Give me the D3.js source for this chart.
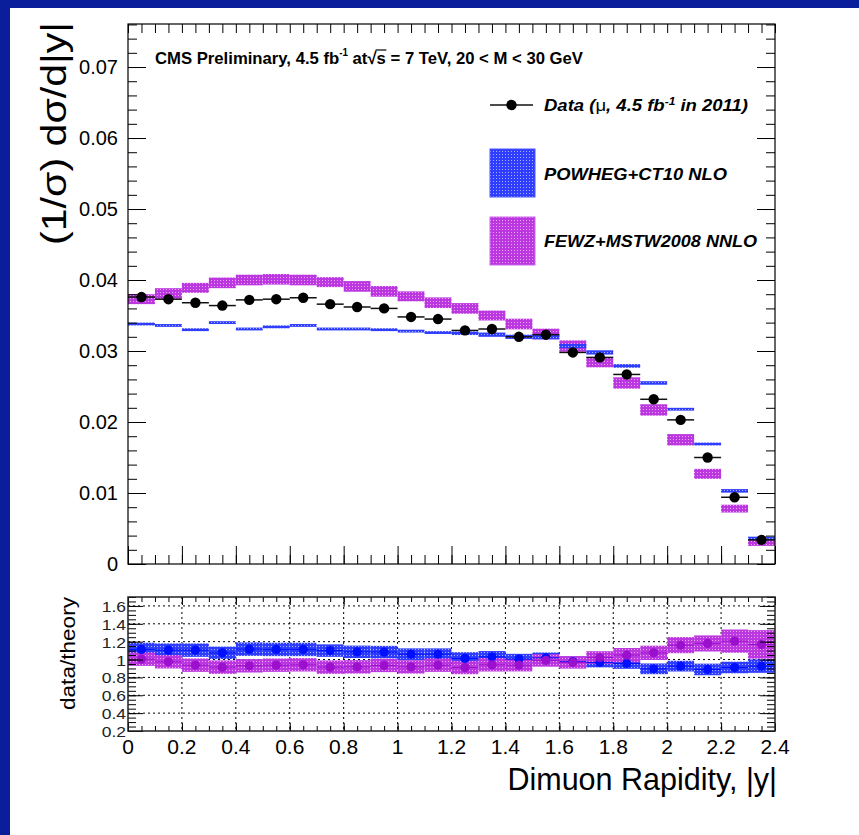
<!DOCTYPE html>
<html>
<head>
<meta charset="utf-8">
<script src="https://cdn.jsdelivr.net/npm/d3@7"></script>
<style>
  body { margin: 0; background: #fff; }
  text { font-family: "Liberation Sans", Arial, sans-serif; }
</style>
</head>
<body>
<script>
// bins in |y|
var binLo = [0.0, 0.1, 0.2, 0.3, 0.4, 0.5, 0.6, 0.7, 0.8, 0.9, 1.0, 1.1, 1.2, 1.3, 1.4, 1.5, 1.6, 1.7, 1.8, 1.9, 2.0, 2.1, 2.2, 2.3];
var binHi = [0.1, 0.2, 0.3, 0.4, 0.5, 0.6, 0.7, 0.8, 0.9, 1.0, 1.1, 1.2, 1.3, 1.4, 1.5, 1.6, 1.7, 1.8, 1.9, 2.0, 2.1, 2.2, 2.3, 2.4];

// (1/sigma) dsigma/d|y|
var dataVal = [0.0376, 0.0373, 0.0368, 0.0364, 0.0372, 0.0373, 0.0375, 0.0366, 0.0362, 0.0360, 0.0348, 0.0345,
               0.0329, 0.0331, 0.0320, 0.0323, 0.0298, 0.0291, 0.0267, 0.0232, 0.0203, 0.0150, 0.0094, 0.0034];
var powhegVal = [0.0338, 0.0336, 0.0330, 0.0340, 0.0331, 0.0334, 0.0336, 0.0331, 0.0331, 0.0330, 0.0328, 0.0326,
                 0.0325, 0.0323, 0.0320, 0.0320, 0.0307, 0.0298, 0.0279, 0.0255, 0.0218, 0.0169, 0.0103, 0.0036];
var powhegErr = [0.0002, 0.0002, 0.0002, 0.0002, 0.0002, 0.0002, 0.0002, 0.0002, 0.0002, 0.0002, 0.0002, 0.0002,
                 0.00025, 0.0003, 0.0003, 0.00035, 0.0003, 0.0003, 0.00025, 0.00025, 0.0002, 0.0002, 0.00025, 0.00025];
var fewzVal = [0.0373, 0.0381, 0.0389, 0.0396, 0.0400, 0.0401, 0.0400, 0.0397, 0.0391, 0.0384, 0.0377, 0.0368,
               0.0360, 0.0350, 0.0338, 0.0324, 0.0307, 0.0284, 0.0255, 0.0217, 0.0175, 0.0127, 0.0078, 0.0030];
var fewzErr = [0.0007, 0.00075, 0.0007, 0.00075, 0.00075, 0.00075, 0.00075, 0.0007, 0.00075, 0.00075, 0.0007, 0.00075,
               0.00075, 0.0007, 0.00075, 0.00075, 0.0008, 0.0007, 0.0008, 0.0008, 0.0008, 0.0007, 0.00055, 0.00045];

// data / theory
var ratioPowheg = [1.113, 1.105, 1.105, 1.075, 1.116, 1.113, 1.113, 1.100, 1.086, 1.083, 1.060, 1.060,
                   1.012, 1.030, 1.004, 1.019, 0.975, 0.967, 0.956, 0.896, 0.926, 0.889, 0.911, 0.926];
var ratioPowhegErr = [0.075, 0.075, 0.075, 0.07, 0.075, 0.075, 0.075, 0.07, 0.07, 0.07, 0.065, 0.065,
                      0.07, 0.065, 0.06, 0.06, 0.06, 0.055, 0.06, 0.06, 0.06, 0.065, 0.065, 0.075];
var ratioFewz = [1.004, 0.975, 0.937, 0.915, 0.930, 0.937, 0.941, 0.915, 0.918, 0.934, 0.918, 0.937,
                 0.911, 0.941, 0.937, 0.990, 0.968, 1.023, 1.049, 1.075, 1.161, 1.180, 1.206, 1.169];
var ratioFewzErr = [0.075, 0.075, 0.075, 0.075, 0.075, 0.075, 0.075, 0.075, 0.075, 0.075, 0.075, 0.075,
                    0.075, 0.075, 0.07, 0.07, 0.07, 0.07, 0.08, 0.08, 0.09, 0.09, 0.13, 0.16];

var mainTicksMajor = [0, 0.01, 0.02, 0.03, 0.04, 0.05, 0.06, 0.07];
var ratioTicksMajor = [0.2, 0.4, 0.6, 0.8, 1.0, 1.2, 1.4, 1.6];
var xTicksMajor = [0, 0.2, 0.4, 0.6, 0.8, 1.0, 1.2, 1.4, 1.6, 1.8, 2.0, 2.2, 2.4];

var W = 859, H = 835;
var left = 128, right = 775;

var x = d3.scaleLinear().domain([0, 2.4]).range([left, right]);
var y = d3.scaleLinear().domain([0, 0.07606]).range([564, 24]);
var yr = d3.scaleLinear().domain([0.2, 1.7]).range([731, 597]);

var svg = d3.select("body").append("svg")
    .attr("width", W)
    .attr("height", H);

// fill patterns (ROOT-like dotted hatch)
var defs = svg.append("defs");
function dotPattern(id, base, dot) {
  var p = defs.append("pattern").attr("id", id)
    .attr("width", 3).attr("height", 3)
    .attr("patternUnits", "userSpaceOnUse");
  p.append("rect").attr("width", 3).attr("height", 3).attr("fill", base);
  p.append("rect").attr("x", 1).attr("y", 1).attr("width", 1).attr("height", 1).attr("fill", dot);
}
dotPattern("pBlue", "#2f3dff", "#aab3ff");
dotPattern("pMag", "#bb38e0", "#e8a8f4");

svg.append("rect").attr("width", W).attr("height", H).attr("fill", "#fff");
svg.append("rect").attr("width", W).attr("height", 8).attr("fill", "#0a1e9c");
svg.append("rect").attr("width", 10).attr("height", H).attr("fill", "#0a1e9c");

var bins = binLo.map(function(lo, i) { return i; });

// ---------- main pad ----------
var main = svg.append("g");

function bandRects(g, scale, vals, errs, fill) {
  g.selectAll(null)
    .data(bins)
    .enter().append("rect")
    .attr("x", function(i) { return x(binLo[i]); })
    .attr("width", function(i) { return x(binHi[i]) - x(binLo[i]); })
    .attr("y", function(i) { return scale(vals[i] + errs[i]); })
    .attr("height", function(i) { return scale(vals[i] - errs[i]) - scale(vals[i] + errs[i]); })
    .attr("fill", fill);
}

bandRects(main, y, fewzVal, fewzErr, "url(#pMag)");
bandRects(main, y, powhegVal, powhegErr, "url(#pBlue)");

// data horizontal error bars + markers
main.selectAll(".xerr")
  .data(bins)
  .enter().append("line")
  .attr("x1", function(i) { return x(binLo[i]); })
  .attr("x2", function(i) { return x(binHi[i]); })
  .attr("y1", function(i) { return y(dataVal[i]); })
  .attr("y2", function(i) { return y(dataVal[i]); })
  .attr("stroke", "#111").attr("stroke-width", 1.5);

main.selectAll(".pt")
  .data(bins)
  .enter().append("circle")
  .attr("cx", function(i) { return (x(binLo[i]) + x(binHi[i])) / 2; })
  .attr("cy", function(i) { return y(dataVal[i]); })
  .attr("r", 5.2)
  .attr("fill", "#000");

// axes of main pad
function tickAxis(g, axisFn, scale, values, size) {
  g.call(axisFn(scale).tickValues(values).tickSize(size).tickFormat(""))
   .call(function(s) { s.select(".domain").remove(); })
   .selectAll("line").attr("stroke", "#000").attr("stroke-width", 1);
}
var xMinor = x.ticks(48);
var yMinor = d3.range(0, 0.0761, 0.002);

tickAxis(main.append("g").attr("transform", "translate(0,564)"), d3.axisBottom, x, xMinor, -9);
tickAxis(main.append("g").attr("transform", "translate(0,564)"), d3.axisBottom, x, xTicksMajor, -18);
tickAxis(main.append("g").attr("transform", "translate(0,24)"), d3.axisTop, x, xMinor, -9);
tickAxis(main.append("g").attr("transform", "translate(" + left + ",0)"), d3.axisLeft, y, yMinor, -9);
tickAxis(main.append("g").attr("transform", "translate(" + left + ",0)"), d3.axisLeft, y, mainTicksMajor, -18);
tickAxis(main.append("g").attr("transform", "translate(" + right + ",0)"), d3.axisRight, y, yMinor, -9);
tickAxis(main.append("g").attr("transform", "translate(" + right + ",0)"), d3.axisRight, y, mainTicksMajor, -18);

main.append("rect")
  .attr("x", left).attr("y", 24)
  .attr("width", right - left).attr("height", 540)
  .attr("fill", "none").attr("stroke", "#000").attr("stroke-width", 1.2);

main.selectAll(".ylab")
  .data(mainTicksMajor)
  .enter().append("text")
  .attr("x", 118)
  .attr("y", function(d) { return y(d); })
  .attr("dy", "0.36em")
  .attr("text-anchor", "end")
  .style("font-size", "20px")
  .text(function(d) { return d === 0 ? "0" : d3.format(".2f")(d); });

// y title
main.append("text")
  .attr("transform", "translate(66,245) rotate(-90)")
  .attr("textLength", 223)
  .attr("lengthAdjust", "spacingAndGlyphs")
  .style("font-size", "35px")
  .text("(1/\u03c3) d\u03c3/d|y|");

// header
var title = main.append("text")
  .attr("x", 155).attr("y", 63.5)
  .style("font-size", "17px")
  .style("font-weight", "bold");
title.append("tspan").text("CMS Preliminary, 4.5 fb");
title.append("tspan").attr("dy", -8).style("font-size", "10px").text("-1");
title.append("tspan").attr("dy", 8).text(" at");
title.append("tspan").text("\u221a");
title.append("tspan").text("s");
title.append("tspan").text(" = 7 TeV, 20 < M < 30 GeV");
title.attr("textLength", 428).attr("lengthAdjust", "spacingAndGlyphs");

// overline of the square root
(function() {
  var node = title.node();
  var str = "CMS Preliminary, 4.5 fb-1 at";
  var iRoot = str.length, iS = iRoot + 1;
  try {
    var eR = node.getExtentOfChar(iRoot);
    var eS = node.getExtentOfChar(iS);
    main.append("line")
      .attr("x1", eR.x + eR.width - 1).attr("x2", eS.x + eS.width + 0.5)
      .attr("y1", eR.y + 1.5).attr("y2", eR.y + 1.5)
      .attr("stroke", "#000").attr("stroke-width", 1.2);
  } catch (e) {}
})();

// legend
var leg = main.append("g");
leg.append("line").attr("x1", 490).attr("x2", 533).attr("y1", 105).attr("y2", 105)
  .attr("stroke", "#111").attr("stroke-width", 1.5);
leg.append("circle").attr("cx", 511.5).attr("cy", 105).attr("r", 5.2).attr("fill", "#000");
var legData = leg.append("text").attr("x", 544).attr("y", 111)
  .style("font-size", "17px").style("font-weight", "bold").style("font-style", "italic");
legData.append("tspan").text("Data (");
legData.append("tspan").style("font-weight", "normal").style("font-style", "normal").text("\u03bc");
legData.append("tspan").text(", 4.5 fb");
legData.append("tspan").attr("dy", -6).style("font-size", "11px").text("-1");
legData.append("tspan").attr("dy", 6).text(" in 2011)");
legData.attr("textLength", 204).attr("lengthAdjust", "spacingAndGlyphs");

leg.append("rect").attr("x", 490).attr("y", 149).attr("width", 45).attr("height", 48)
  .attr("fill", "url(#pBlue)").attr("stroke", "#4a56ff").attr("stroke-width", 1);
leg.append("text").attr("x", 544).attr("y", 180)
  .attr("textLength", 183).attr("lengthAdjust", "spacingAndGlyphs")
  .style("font-size", "17px").style("font-weight", "bold").style("font-style", "italic")
  .text("POWHEG+CT10 NLO");

leg.append("rect").attr("x", 490).attr("y", 217).attr("width", 45).attr("height", 48)
  .attr("fill", "url(#pMag)").attr("stroke", "#cc66ee").attr("stroke-width", 1);
leg.append("text").attr("x", 544).attr("y", 247)
  .attr("textLength", 213).attr("lengthAdjust", "spacingAndGlyphs")
  .style("font-size", "17px").style("font-weight", "bold").style("font-style", "italic")
  .text("FEWZ+MSTW2008 NNLO");

// ---------- ratio pad ----------
var rp = svg.append("g");

// grid
rp.selectAll(".gx")
  .data(xTicksMajor.slice(1, -1))
  .enter().append("line")
  .attr("x1", function(d) { return x(d); }).attr("x2", function(d) { return x(d); })
  .attr("y1", 597).attr("y2", 731)
  .attr("stroke", "#000").attr("stroke-width", 1).attr("stroke-dasharray", "2,3");
rp.selectAll(".gy")
  .data(ratioTicksMajor.slice(1))
  .enter().append("line")
  .attr("x1", left).attr("x2", right)
  .attr("y1", function(d) { return yr(d); }).attr("y2", function(d) { return yr(d); })
  .attr("stroke", "#000").attr("stroke-width", 1).attr("stroke-dasharray", "2,3");

bandRects(rp, yr, ratioPowheg, ratioPowhegErr, "url(#pBlue)");
bandRects(rp, yr, ratioFewz, ratioFewzErr, "url(#pMag)");

function ratioPoints(vals, color) {
  rp.selectAll(null)
    .data(bins)
    .enter().append("line")
    .attr("x1", function(i) { return x(binLo[i]); })
    .attr("x2", function(i) { return x(binHi[i]); })
    .attr("y1", function(i) { return yr(vals[i]); })
    .attr("y2", function(i) { return yr(vals[i]); })
    .attr("stroke", color).attr("stroke-width", 1);
  rp.selectAll(null)
    .data(bins)
    .enter().append("circle")
    .attr("cx", function(i) { return (x(binLo[i]) + x(binHi[i])) / 2; })
    .attr("cy", function(i) { return yr(vals[i]); })
    .attr("r", 4.6)
    .attr("fill", color);
}
ratioPoints(ratioPowheg, "#0010ff");
ratioPoints(ratioFewz, "#9a10cc");

var yrMinor = d3.range(0.2, 1.701, 0.05);
tickAxis(rp.append("g").attr("transform", "translate(0,731)"), d3.axisBottom, x, xMinor, -5);
tickAxis(rp.append("g").attr("transform", "translate(0,731)"), d3.axisBottom, x, xTicksMajor, -8);
tickAxis(rp.append("g").attr("transform", "translate(0,597)"), d3.axisTop, x, xMinor, -5);
tickAxis(rp.append("g").attr("transform", "translate(0,597)"), d3.axisTop, x, xTicksMajor, -8);
tickAxis(rp.append("g").attr("transform", "translate(" + left + ",0)"), d3.axisLeft, yr, yrMinor, -8);
tickAxis(rp.append("g").attr("transform", "translate(" + left + ",0)"), d3.axisLeft, yr, ratioTicksMajor, -15);
tickAxis(rp.append("g").attr("transform", "translate(" + right + ",0)"), d3.axisRight, yr, yrMinor, -8);
tickAxis(rp.append("g").attr("transform", "translate(" + right + ",0)"), d3.axisRight, yr, ratioTicksMajor, -15);

rp.append("rect")
  .attr("x", left).attr("y", 597)
  .attr("width", right - left).attr("height", 134)
  .attr("fill", "none").attr("stroke", "#222").attr("stroke-width", 1.5);

rp.selectAll(".rlab")
  .data(ratioTicksMajor)
  .enter().append("text")
  .attr("transform", function(d) { return "translate(126," + (yr(d) + 1) + ") scale(1.25,1)"; })
  .attr("dy", "0.36em")
  .attr("text-anchor", "end")
  .style("font-size", "14px")
  .attr("fill", "#222")
  .text(function(d) { return d3.format("~g")(d); });

rp.selectAll(".xlab")
  .data(xTicksMajor)
  .enter().append("text")
  .attr("x", function(d) { return x(d); })
  .attr("y", 754)
  .attr("text-anchor", "middle")
  .style("font-size", "21px")
  .text(function(d) { return d3.format("~g")(d); });

rp.append("text")
  .attr("transform", "translate(75,710) rotate(-90)")
  .attr("textLength", 113)
  .attr("lengthAdjust", "spacingAndGlyphs")
  .style("font-size", "20px")
  .text("data/theory");

rp.append("text")
  .attr("x", 777).attr("y", 790)
  .attr("text-anchor", "end")
  .style("font-size", "30.5px")
  .text("Dimuon Rapidity, |y|");
</script>
</body>
</html>
